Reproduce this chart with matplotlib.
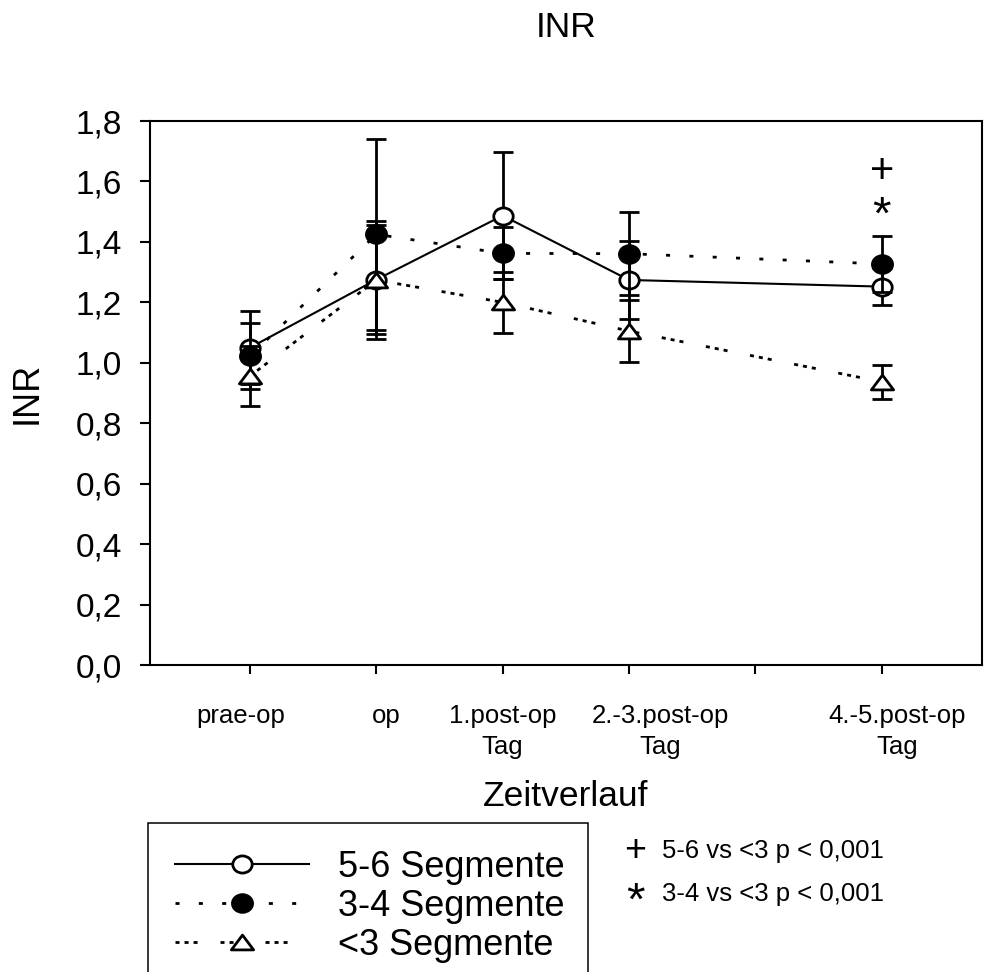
import matplotlib
matplotlib.use("Agg")
import matplotlib.pyplot as plt
from matplotlib.lines import Line2D
from matplotlib.path import Path
from matplotlib.transforms import Affine2D

plt.rcParams['font.family'] = ['Liberation Sans', 'DejaVu Sans']
plt.rcParams['lines.scale_dashes'] = False

# ---------------- data ----------------
time_points = ["prae-op", "op", "1.post-op\nTag", "2.-3.post-op\nTag", "4.-5.post-op\nTag"]
time_x = [1, 2, 3, 4, 6]
axis_ticks = [1, 2, 3, 4, 5, 6]
label_x = [0.93, 2.08, 3.0, 4.25, 6.12]

series_names = ["5-6 Segmente", "3-4 Segmente", "<3 Segmente"]
seg56_mean = [1.05, 1.275, 1.487, 1.274, 1.252]
seg56_err = [0.12, 0.18, 0.21, 0.13, 0.06]
seg34_mean = [1.022, 1.425, 1.362, 1.361, 1.327]
seg34_err = [0.11, 0.315, 0.086, 0.137, 0.093]
seg3_mean = [0.956, 1.274, 1.20, 1.105, 0.937]
seg3_err = [0.10, 0.195, 0.10, 0.103, 0.057]

y_ticks = [0.0, 0.2, 0.4, 0.6, 0.8, 1.0, 1.2, 1.4, 1.6, 1.8]
y_labels = [f"{v:.1f}".replace('.', ',') for v in y_ticks]

sig_marks = ["+", "*"]
sig_texts = ["5-6 vs <3 p < 0,001", "3-4 vs <3 p < 0,001"]

# ---------------- figure ----------------
W, H = 984, 972
fig = plt.figure(figsize=(W / 100, H / 100), dpi=100)
ax = fig.add_axes([150 / W, 1 - 665 / H, 832 / W, 544 / H])

ellipse = Affine2D().scale(1.0, 0.88).transform_path(Path.unit_circle())
triangle = Path([(0, 1), (-1.5, -1), (1.5, -1), (0, 1)],
                [Path.MOVETO, Path.LINETO, Path.LINETO, Path.CLOSEPOLY])

styles = [
    dict(ls='-', lw=1.5, marker=ellipse, ms=14, mfc='white'),
    dict(ls=(0, (2.9, 13.9)), lw=2.0, marker=ellipse, ms=14.5, mfc='black'),
    dict(ls=(0, (2.9, 3.6, 2.9, 3.6, 2.9, 16.5)), lw=2.0, marker=triangle, ms=16, mfc='white'),
]
means = [seg56_mean, seg34_mean, seg3_mean]
errs = [seg56_err, seg34_err, seg3_err]

handles = []
z = 2
for name, m, e, st in zip(series_names, means, errs, styles):
    ax.errorbar(time_x, m, yerr=e, fmt='none', ecolor='black', elinewidth=2,
                capsize=7.2, capthick=2, zorder=z)
    ax.plot(time_x, m, color='black', ls=st['ls'], lw=st['lw'],
            dash_capstyle='butt', zorder=z + 0.1)
    ax.plot(time_x, m, ls='none', marker=st['marker'], ms=st['ms'],
            mfc=st['mfc'], mec='black', mew=2, zorder=z + 0.2)
    handles.append(Line2D([], [], color='black', ls=st['ls'], lw=st['lw'],
                          dash_capstyle='butt', marker=st['marker'], ms=st['ms'],
                          mfc=st['mfc'], mec='black', mew=2, label=name))
    z += 1

# axes limits / spines
ax.set_xlim(0.2085, 6.794)
ax.set_ylim(0, 1.8)
for s in ax.spines.values():
    s.set_linewidth(1.5)

ax.xaxis.remove_overlapping_locs = False
ax.set_xticks(axis_ticks)
ax.set_xticklabels([])
ax.set_xticks(label_x, minor=True)
ax.set_xticklabels(time_points, minor=True, fontsize=18.5, linespacing=1.35)
ax.tick_params(axis='x', which='major', length=6.5, width=1.5, direction='out')
ax.tick_params(axis='x', which='minor', length=0, pad=28)

ax.set_yticks(y_ticks)
ax.set_yticklabels(y_labels)
ax.tick_params(axis='y', length=7.2, width=1.5, pad=13, labelsize=24)

ax.set_ylabel("INR", fontsize=26)
ax.yaxis.label.set_va('baseline')
ax.yaxis.set_label_coords((37 - 150) / 832, 0.5)

ax.set_xlabel("Zeitverlauf", fontsize=25.5)
ax.xaxis.label.set_va('baseline')
ax.xaxis.set_label_coords(0.5, (665 - 806) / 544)

fig.text(566 / W, 1 - 37 / H, "INR", ha='center', va='baseline', fontsize=25.5)

# significance marks in plot
ax.text(6, 1.594, sig_marks[0], ha='center', va='baseline', fontsize=30)
ax.text(6, 1.443, sig_marks[1], ha='center', va='baseline', fontsize=34)

# legend
leg = fig.legend(handles=handles, loc='upper left',
                 bbox_to_anchor=(148 / W, 1 - 823 / H - 0.01, 440 / W, 0.01),
                 bbox_transform=fig.transFigure, mode='expand', borderaxespad=0,
                 fontsize=26, handlelength=3.7, handletextpad=0.8,
                 borderpad=0.75, labelspacing=0.11, numpoints=1,
                 fancybox=False, frameon=True, edgecolor='black', framealpha=1)
leg.get_frame().set_linewidth(1.1)

# significance explanation
fig.text(635 / W, 1 - 861 / H, sig_marks[0], ha='center', va='baseline', fontsize=27)
fig.text(662 / W, 1 - 858 / H, sig_texts[0], ha='left', va='baseline', fontsize=18.5)
fig.text(635 / W, 1 - 915 / H, sig_marks[1], ha='center', va='baseline', fontsize=34)
fig.text(662 / W, 1 - 901 / H, sig_texts[1], ha='left', va='baseline', fontsize=18.5)

fig.savefig("out.png", dpi=100)
